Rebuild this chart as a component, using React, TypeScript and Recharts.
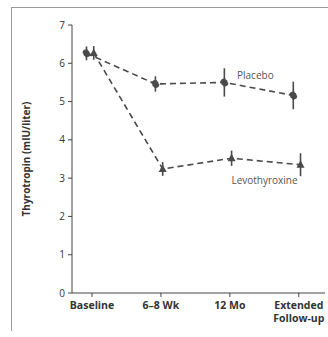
import React from 'react';
import { LineChart, Line, XAxis, YAxis, ErrorBar, LabelList } from 'recharts';

const categories = ['Baseline', '6–8 Wk', '12 Mo', 'Extended|Follow-up'];
const placeboValues = [6.26, 5.46, 5.5, 5.16];
const placeboErrors = [0.18, 0.2, 0.37, 0.36];
const levoValues = [6.27, 3.24, 3.52, 3.35];
const levoErrors = [0.18, 0.18, 0.2, 0.3];
const yTicks = [0, 1, 2, 3, 4, 5, 6, 7];

const FONT = '"Open Sans", "Noto Sans", sans-serif';
const INK = '#4a4a4a';

// both series share one numeric axis, nudged apart a little like the original
const data = [
  ...categories.map((_, i) => ({ x: i - 0.08, placebo: placeboValues[i], pErr: placeboErrors[i] })),
  ...categories.map((_, i) => ({ x: i + 0.025, levo: levoValues[i], lErr: levoErrors[i] })),
];

const CategoryTick = (props: any) => {
  const { x, y, payload } = props;
  const lines = categories[payload.value].split('|');
  return (
    <g transform={`translate(${x},${y})`}>
      {lines.map((l, i) => (
        <text key={i} x={0} y={i * 13} dy={10} textAnchor="middle" fontSize={10.5} fontWeight={700} fill="#333" fontFamily={FONT}>
          {l}
        </text>
      ))}
    </g>
  );
};

const Triangle = (props: any) => {
  const { cx, cy } = props;
  if (cx == null || cy == null) return null;
  return <path d={`M${cx},${cy - 4.5} L${cx + 4},${cy + 3} L${cx - 4},${cy + 3} Z`} fill={INK} />;
};

const seriesLabel = (text: string, index: number, dx: number, dy: number) => (props: any) => {
  if (props.index !== index) return null;
  return (
    <text x={props.x + dx} y={props.y + dy} textAnchor="middle" fontSize={10} fill="#555" fontFamily={FONT}>
      {text}
    </text>
  );
};

export default function App() {
  return (
    <div style={{ position: 'absolute', left: 0, top: 0, width: 328, height: 337, background: '#fff' }}>
      <div style={{ position: 'absolute', left: 11, top: 7, width: 317, height: 323, borderLeft: '1px solid #999', borderTop: '1px solid #999' }} />
      <LineChart width={328} height={337} data={data} margin={{ top: 25, right: 3, left: 0, bottom: 0 }}>
        <XAxis
          dataKey="x"
          type="number"
          domain={[-0.29, 3.38]}
          ticks={[0, 1, 2, 3]}
          tick={<CategoryTick />}
          tickSize={4}
          stroke="#444"
          axisLine={{ stroke: '#444' }}
          interval={0}
          height={44}
        />
        <YAxis
          domain={[0, 7]}
          ticks={yTicks}
          width={72}
          tickSize={4}
          tickMargin={3}
          stroke="#444"
          tick={{ fontSize: 10, fill: '#333', fontFamily: FONT }}
          label={{
            value: 'Thyrotropin (mIU/liter)',
            angle: -90,
            position: 'insideLeft',
            offset: 26,
            style: { fontSize: 10, fontWeight: 700, fill: '#333', fontFamily: FONT, textAnchor: 'middle' },
          }}
        />
        <Line
          dataKey="placebo"
          stroke={INK}
          strokeWidth={1.6}
          strokeDasharray="6 4"
          connectNulls
          dot={{ r: 3.2, fill: INK, stroke: INK }}
          isAnimationActive={false}
        >
          <ErrorBar dataKey="pErr" width={0} stroke={INK} strokeWidth={1.6} />
          <LabelList content={seriesLabel('Placebo', 2, 31, -3)} />
        </Line>
        <Line
          dataKey="levo"
          stroke={INK}
          strokeWidth={1.6}
          strokeDasharray="6 4"
          connectNulls
          dot={<Triangle />}
          isAnimationActive={false}
        >
          <ErrorBar dataKey="lErr" width={0} stroke={INK} strokeWidth={1.6} />
          <LabelList content={seriesLabel('Levothyroxine', 7, -36, 19)} />
        </Line>
      </LineChart>
    </div>
  );
}
